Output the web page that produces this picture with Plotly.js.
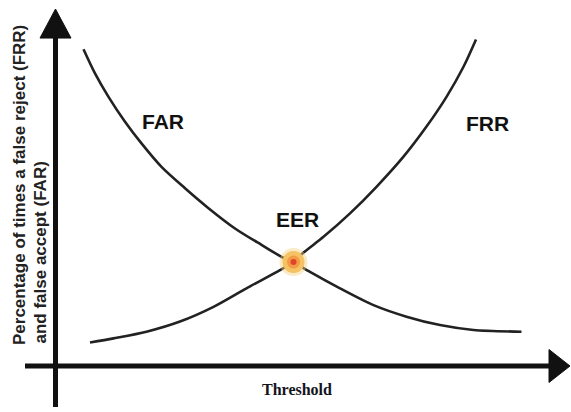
<!DOCTYPE html>
<html>
<head>
<meta charset="utf-8">
<script src="https://cdn.plot.ly/plotly-3.0.1.min.js"></script>
<style>html,body{margin:0;padding:0;background:#fff;}#chart{width:571px;height:412px;}</style>
</head>
<body>
<div id="chart"></div>
<script>
// Data (threshold on x, percentage on y)
var farThreshold = [0.56, 0.79, 1.06, 1.39, 1.72, 2.12, 2.59, 3.06, 3.59, 4.12, 4.52, 4.76, 5.09, 5.69, 6.36, 7.02, 7.69, 8.36, 9.32];
var farValues    = [90.5, 83.6, 76.9, 69.8, 63.6, 56.9, 50.8, 45.1, 39.3, 34.6, 31.2, 29.7, 26.9, 22.2, 17.4, 14.1, 11.7, 10.3, 9.8];
var frrThreshold = [0.69, 1.16, 1.82, 2.49, 3.16, 3.82, 4.49, 4.76, 4.96, 5.36, 5.89, 6.42, 6.96, 7.42, 7.82, 8.16, 8.41];
var frrValues    = [6.7, 7.9, 9.8, 12.7, 16.9, 22.2, 27.4, 29.7, 32.4, 36.9, 43.6, 51.2, 59.8, 68.4, 76.9, 85.5, 93.3];
var eerThreshold = [4.76];
var eerValue = [29.7];
var curveLabels = ["FAR", "FRR", "EER"];
var curveLabelX = [2.15, 8.64, 4.83];
var curveLabelY = [70.0, 69.4, 41.8];
var yTitleLines = ["Percentage of times a false reject (FRR)", "and false accept (FAR)"];
var xTitle = "Threshold";

var lineStyle = {color: "#222", width: 2.6, shape: "spline", smoothing: 0.8};
var traces = [
  {x: farThreshold, y: farValues, mode: "lines", line: lineStyle, hoverinfo: "skip"},
  {x: frrThreshold, y: frrValues, mode: "lines", line: lineStyle, hoverinfo: "skip"},
  {x: eerThreshold, y: eerValue, mode: "markers", marker: {size: 28, color: "rgba(245,210,130,0.45)", line: {width: 0}}, hoverinfo: "skip"},
  {x: eerThreshold, y: eerValue, mode: "markers", marker: {size: 22, color: "#f5c264", line: {width: 0}}, hoverinfo: "skip"},
  {x: eerThreshold, y: eerValue, mode: "markers", marker: {size: 13, color: "#f29a45", line: {width: 0}}, hoverinfo: "skip"},
  {x: eerThreshold, y: eerValue, mode: "markers", marker: {size: 6, color: "#e0452a", line: {width: 0}}, hoverinfo: "skip"}
];

var annotations = [];
for (var i = 0; i < curveLabels.length; i++) {
  annotations.push({x: curveLabelX[i], y: curveLabelY[i], xref: "x", yref: "y", text: "<b>" + curveLabels[i] + "</b>",
    showarrow: false, xanchor: "center", yanchor: "middle",
    font: {family: "Liberation Sans, Arial, sans-serif", size: 21, color: "#111"}});
}
annotations.push({x: 19.5/571, y: 1 - 185.5/412, xref: "paper", yref: "paper", text: "<b>" + yTitleLines[0] + "</b>",
  textangle: -90, showarrow: false, xanchor: "center", yanchor: "middle",
  font: {family: "Liberation Sans, Arial, sans-serif", size: 17, color: "#222"}});
annotations.push({x: 40/571, y: 1 - 252.5/412, xref: "paper", yref: "paper", text: "<b>" + yTitleLines[1] + "</b>",
  textangle: -90, showarrow: false, xanchor: "center", yanchor: "middle",
  font: {family: "Liberation Sans, Arial, sans-serif", size: 17, color: "#222"}});
annotations.push({x: 296.7/571, y: 1 - 389/412, xref: "paper", yref: "paper", text: "<b>" + xTitle + "</b>",
  showarrow: false, xanchor: "center", yanchor: "middle",
  font: {family: "Liberation Serif, Times New Roman, serif", size: 16, color: "#141420"}});

var axisColor = "#111";
var shapes = [
  {type: "line", xref: "x", yref: "y", x0: 0, x1: 0, y0: -11.7, y1: 94.5, line: {color: axisColor, width: 5}},
  {type: "path", xref: "x", yref: "y", path: "M -0.31 93.7 L 0 102 L 0.31 93.7 Z", fillcolor: axisColor, line: {color: axisColor, width: 1}},
  {type: "line", xref: "x", yref: "y", x0: -0.61, x1: 9.9, y0: 0, y1: 0, line: {color: axisColor, width: 5}},
  {type: "path", xref: "x", yref: "y", path: "M 9.87 4.71 L 10.29 0 L 9.87 -4.71 Z", fillcolor: axisColor, line: {color: axisColor, width: 1}}
];

var layout = {
  width: 571, height: 412,
  margin: {l: 0, r: 0, t: 0, b: 0},
  paper_bgcolor: "#fff", plot_bgcolor: "#fff",
  showlegend: false,
  xaxis: {range: [-1.11, 10.31], visible: false, fixedrange: true},
  yaxis: {range: [-13.143, 104.571], visible: false, fixedrange: true},
  shapes: shapes,
  annotations: annotations
};
Plotly.newPlot("chart", traces, layout, {displayModeBar: false, staticPlot: true});
</script>
</body>
</html>
